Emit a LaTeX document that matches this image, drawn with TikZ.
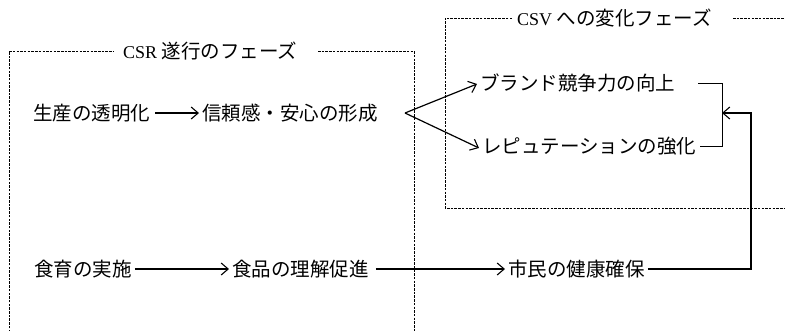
\documentclass[tikz,border=0pt]{standalone}
\usepackage{fontspec}
\setmainfont{Liberation Serif}
\newfontfamily\cjk{Noto Sans CJK JP}
\usetikzlibrary{arrows.meta}
\begin{document}
\begin{tikzpicture}[x=1pt,y=-1pt,
  lbl/.style={inner xsep=3pt, inner ysep=0pt, anchor=west, font=\cjk\fontsize{19.5}{20}\selectfont},
  ttl/.style={inner sep=0pt, anchor=west, font=\fontsize{18}{20}\selectfont},
  frame/.style={line width=0.8pt, dash pattern=on 2.5pt off 1.2pt},
  tip/.style={-{Straight Barb[length=7pt,width=12pt,line width=1.1pt]}},
  thickarr/.style={tip, line width=1.9pt},
  thinarr/.style={tip, line width=1.2pt},
  bracket/.style={line width=0.9pt},
]
\useasboundingbox (0,0) rectangle (785,330);

% frames
\draw[frame] (9,332) -- (9,51) -- (113,51);
\draw[frame] (318,51) -- (414,51) -- (414,332);
\node[ttl] (csrt) at (123,51) {CSR {\cjk\fontsize{19.5}{20}\selectfont 遂行のフェーズ}};

\draw[frame] (512,18) -- (445,18) -- (445,208) -- (787,208);
\draw[frame] (733,18) -- (787,18);
\node[ttl] (csvt) at (517,18) {CSV {\cjk\fontsize{19.5}{20}\selectfont への変化フェーズ}};

% nodes
\node[lbl] (prod)   at (30,113)  {生産の透明化};
\node[lbl] (trust)  at (199,113) {信頼感・安心の形成};
\node[lbl] (brand)  at (477,83)  {ブランド競争力の向上};
\node[lbl] (rep)    at (479,146) {レピュテーションの強化};
\node[lbl] (edu)    at (31,269)  {食育の実施};
\node[lbl] (under)  at (229,269) {食品の理解促進};
\node[lbl] (health) at (505,269) {市民の健康確保};

\coordinate (apex) at (405,113);
\coordinate (bt) at (722,83);
\coordinate (bb) at (722,146);
\coordinate (join) at (722,113);
\coordinate (turn) at (751,269);

% connectors
\draw[thickarr] ([xshift=2pt]prod.east) -- (trust.west);
\draw[thinarr] (apex) -- ([yshift=-1pt]brand.west);
\draw[thinarr] (apex) -- ([yshift=-2pt]rep.west);
\draw[bracket] ([xshift=20pt]brand.east) -- (bt) -- (bb) -- (rep.east);

\draw[thickarr] ([xshift=0pt]edu.east) -- (under.west);
\draw[thickarr] ([xshift=4pt]under.east) -- (health.west);
\draw[thickarr] (health.east) -- (turn) |- (join);
\end{tikzpicture}
\end{document}
